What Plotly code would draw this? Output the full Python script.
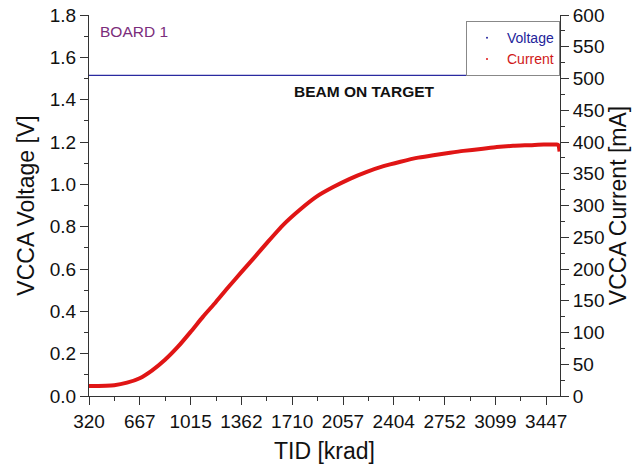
import plotly.graph_objects as go

# ---- data ----
tid_ticks = [320, 667, 1015, 1362, 1710, 2057, 2404, 2752, 3099, 3447]
tid_current = [320, 493, 580, 667, 750, 840, 930, 1015, 1100, 1188, 1275, 1362,
               1450, 1540, 1650, 1760, 1876, 1990, 2104, 2220, 2334, 2450, 2561,
               2675, 2789, 2880, 3000, 3108, 3220, 3336, 3430, 3519, 3530, 3538]
current_ma = [15.7, 17, 21, 28, 40, 57, 78, 101, 125, 148, 172, 195,
              218, 242, 270, 293, 314, 329, 342, 353, 362, 369, 375,
              379, 383, 386, 389, 392, 394, 395, 396, 396, 395, 385]
tid_voltage = [320, 3540]
voltage_v = [1.515, 1.515]
x_range = [320, 3541]

FONT = "Arial, 'Liberation Sans', sans-serif"
BLUE = "#2a2aa0"
RED = "#e01515"

fig = go.Figure()
fig.add_trace(go.Scatter(x=tid_voltage, y=voltage_v, mode="lines",
                         line=dict(color=BLUE, width=1.3), showlegend=False, yaxis="y"))
fig.add_trace(go.Scatter(x=tid_current, y=current_ma, mode="lines",
                         line=dict(color=RED, width=4, shape="spline", smoothing=0.6),
                         showlegend=False, yaxis="y2"))
# legend entries (tiny dots like the original)
fig.add_trace(go.Scatter(x=[None], y=[None], mode="markers",
                         marker=dict(size=2, color=BLUE),
                         name="<span style='color:#23239a'>Voltage</span>"))
fig.add_trace(go.Scatter(x=[None], y=[None], mode="markers",
                         marker=dict(size=2, color=RED), yaxis="y2",
                         name="<span style='color:#d01818'>Current</span>"))

axis_common = dict(showline=True, linecolor="#333", linewidth=1, showgrid=False,
                   zeroline=False, tickcolor="#333", ticklen=8, automargin=False,
                   tickfont=dict(size=19, color="#111", family=FONT))

fig.update_layout(
    width=633, height=470,
    margin=dict(l=89, r=73, t=15, b=74),
    paper_bgcolor="white", plot_bgcolor="white",
    font=dict(family=FONT, color="#111"),
    xaxis=dict(range=x_range, tickvals=tid_ticks, ticks="outside",
               minor=dict(tickvals=[t + 173.7 for t in tid_ticks], ticks="outside", ticklen=4, tickcolor="#333"),
               title=dict(text="TID [krad]", font=dict(size=23), standoff=12),
               **axis_common),
    xaxis2=dict(range=x_range, overlaying="x", side="top", anchor="y",
                tickvals=tid_ticks, ticks="inside", showticklabels=False, automargin=False,
                minor=dict(tickvals=[t + 173.7 for t in tid_ticks], ticks="inside", ticklen=4, tickcolor="#333"),
                showline=True, linecolor="#555", linewidth=1, showgrid=False,
                zeroline=False, tickcolor="#333", ticklen=8),
    yaxis=dict(range=[0, 1.8], dtick=0.2, tickformat=".1f", ticks="outside",
               minor=dict(dtick=0.1, ticks="outside", ticklen=4, tickcolor="#333"),
               title=dict(text="VCCA Voltage [V]", font=dict(size=23), standoff=8),
               **axis_common),
    yaxis2=dict(range=[0, 600], dtick=50, overlaying="y", side="right", anchor="x",
                ticks="outside",
                minor=dict(dtick=25, ticks="outside", ticklen=4, tickcolor="#333"),
                title=dict(text="VCCA Current [mA]", font=dict(size=23), standoff=6),
                **axis_common),
    legend=dict(x=1, xanchor="right", y=0.984, yanchor="top",
                bgcolor="white", bordercolor="#888", borderwidth=1,
                font=dict(size=14, family=FONT), itemwidth=30,
                tracegroupgap=0),
    annotations=[
        dict(text="BOARD 1", xref="paper", yref="paper", x=0.019, y=0.958,
             xanchor="left", yanchor="middle", showarrow=False,
             font=dict(size=15.5, color="#7b2d7b", family=FONT)),
        dict(text="<b>BEAM ON TARGET</b>", xref="paper", yref="paper", x=0.584, y=0.798,
             xanchor="center", yanchor="middle", showarrow=False,
             font=dict(size=15.5, color="#111", family=FONT)),
    ],
)

fig.write_html("out.html")
